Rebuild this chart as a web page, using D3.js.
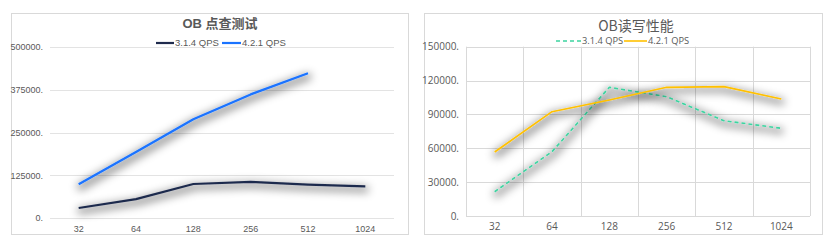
<!DOCTYPE html>
<html>
<head>
<meta charset="utf-8">
<script src="https://cdn.jsdelivr.net/npm/d3@7.9.0/dist/d3.min.js"></script>
<style>
  body { margin: 0; background: #fff; }
  svg { display: block; }
</style>
</head>
<body>
<svg id="chart" width="832" height="248"></svg>
<script>
// categories (concurrency)
const categories = ["32", "64", "128", "256", "512", "1024"];

// left chart: OB 点查测试
const leftTitle = "OB 点查测试";
const leftSeriesNames = ["3.1.4 QPS", "4.2.1 QPS"];
const left314 = [30000, 56000, 100000, 106000, 98000, 93000];
const left421 = [99000, 193000, 288500, 361000, 422500, null];
const leftTicks = [0, 125000, 250000, 375000, 500000];

// right chart: OB读写性能
const rightTitle = "OB读写性能";
const rightSeriesNames = ["3.1.4 QPS", "4.2.1 QPS"];
const right314 = [21500, 57000, 114000, 105700, 84400, 77700];
const right421 = [56700, 92400, 102800, 114000, 114600, 103700];
const rightTicks = [0, 30000, 60000, 90000, 120000, 150000];

const svg = d3.select("#chart");

// soft gray shadow under the lines
const defs = svg.append("defs");
const shadow = defs.append("filter")
  .attr("id", "shadow")
  .attr("x", "-20%").attr("y", "-50%")
  .attr("width", "140%").attr("height", "200%");
shadow.append("feMorphology")
  .attr("in", "SourceAlpha").attr("operator", "dilate").attr("radius", 2)
  .attr("result", "thick");
shadow.append("feGaussianBlur")
  .attr("in", "thick").attr("stdDeviation", 4).attr("result", "blur");
shadow.append("feOffset")
  .attr("in", "blur").attr("dx", 1).attr("dy", 3).attr("result", "off");
shadow.append("feFlood")
  .attr("flood-color", "#000").attr("flood-opacity", 0.4);
shadow.append("feComposite")
  .attr("in2", "off").attr("operator", "in").attr("result", "sh");
const merge = shadow.append("feMerge");
merge.append("feMergeNode").attr("in", "sh");
merge.append("feMergeNode").attr("in", "SourceGraphic");

function drawPanel(opts) {
  const g = svg.append("g");

  g.append("rect")
    .attr("x", opts.box[0] + 0.5).attr("y", opts.box[1] + 0.5)
    .attr("width", opts.box[2]).attr("height", opts.box[3])
    .attr("fill", "#fff")
    .attr("stroke", "#d9d9d9");

  const x = d3.scaleBand()
    .domain(categories)
    .range([opts.plot[0], opts.plot[1]]);
  const y = d3.scaleLinear()
    .domain([0, opts.ticks[opts.ticks.length - 1]])
    .range([opts.plot[3], opts.plot[2]]);

  // horizontal grid
  g.append("g").selectAll("line")
    .data(opts.ticks)
    .join("line")
    .attr("x1", opts.plot[0]).attr("x2", opts.plot[1])
    .attr("y1", d => Math.round(y(d)) + 0.5)
    .attr("y2", d => Math.round(y(d)) + 0.5)
    .attr("stroke", opts.gridColor);

  if (opts.vgrid) {
    const edges = categories.map(c => x(c)).concat([opts.plot[1]]);
    g.append("g").selectAll("line")
      .data(edges)
      .join("line")
      .attr("x1", d => Math.round(d) + 0.5).attr("x2", d => Math.round(d) + 0.5)
      .attr("y1", opts.plot[2]).attr("y2", opts.plot[3])
      .attr("stroke", opts.gridColor);
  }

  // y tick labels
  g.append("g").selectAll("text")
    .data(opts.ticks)
    .join("text")
    .attr("x", opts.plot[0] - 7)
    .attr("y", d => y(d))
    .attr("dy", "0.35em")
    .attr("text-anchor", "end")
    .attr("font-family", opts.font)
    .attr("font-size", opts.tickSize)
    .attr("fill", "#595959")
    .text(d => d + ".");

  // x tick labels
  g.append("g").selectAll("text")
    .data(categories)
    .join("text")
    .attr("x", d => x(d) + x.bandwidth() / 2)
    .attr("y", opts.plot[3] + 14)
    .attr("text-anchor", "middle")
    .attr("font-family", opts.font)
    .attr("font-size", opts.tickSize)
    .attr("fill", "#595959")
    .text(d => d);

  // title
  g.append("text")
    .attr("x", opts.titlePos[0]).attr("y", opts.titlePos[1])
    .attr("text-anchor", "middle")
    .attr("font-family", opts.titleFont)
    .attr("font-size", opts.titleSize)
    .attr("font-weight", opts.titleWeight)
    .attr("fill", "#595959")
    .text(opts.title);

  const line = d3.line()
    .defined(d => d != null)
    .x((d, i) => x(categories[i]) + x.bandwidth() / 2)
    .y(d => y(d));

  opts.series.forEach(s => {
    g.append("path")
      .datum(s.values)
      .attr("fill", "none")
      .attr("stroke", s.color)
      .attr("stroke-width", s.width)
      .attr("stroke-dasharray", s.dash || null)
      .attr("stroke-linejoin", "round")
      .attr("filter", "url(#shadow)")
      .attr("d", line);
  });

  // legend
  opts.series.forEach(s => {
    const lg = g.append("g").attr("transform", `translate(${s.legendX},${opts.legendY})`);
    lg.append("line")
      .attr("x1", 0).attr("x2", s.legendLen)
      .attr("y1", 0).attr("y2", 0)
      .attr("stroke", s.color)
      .attr("stroke-width", s.width)
      .attr("stroke-dasharray", s.dash || null);
    lg.append("text")
      .attr("x", s.legendLen + 1)
      .attr("y", 0)
      .attr("dy", "0.35em")
      .attr("font-family", opts.font)
      .attr("font-size", opts.legendSize)
      .attr("fill", "#595959")
      .text(s.name);
  });
}

drawPanel({
  box: [11, 13, 397, 221],
  plot: [50, 394, 46.7, 218.3],
  ticks: leftTicks,
  vgrid: false,
  gridColor: "#e3e3e3",
  font: "'Liberation Sans', Arial, sans-serif",
  tickSize: 9,
  legendSize: 9.5,
  title: leftTitle,
  titleFont: "'Liberation Sans', 'Noto Sans CJK SC', sans-serif",
  titleSize: 13,
  titleWeight: "bold",
  titlePos: [220, 28],
  legendY: 43,
  series: [
    { name: leftSeriesNames[0], values: left314, color: "#1f2b4d", width: 2.2, legendX: 156, legendLen: 18 },
    { name: leftSeriesNames[1], values: left421, color: "#1a73ff", width: 2.2, legendX: 222, legendLen: 19 }
  ]
});

drawPanel({
  box: [424, 13, 398, 221],
  plot: [466, 810, 46.7, 216],
  ticks: rightTicks,
  vgrid: true,
  gridColor: "#d9d9d9",
  font: "'Open Sans', 'Noto Sans', sans-serif",
  tickSize: 10,
  legendSize: 9.3,
  title: rightTitle,
  titleFont: "'Noto Sans CJK SC', sans-serif",
  titleSize: 14,
  titleWeight: "normal",
  titlePos: [636, 31],
  legendY: 41,
  series: [
    { name: rightSeriesNames[0], values: right314, color: "#3dd3a0", width: 1.6, dash: "4,3", legendX: 556, legendLen: 25 },
    { name: rightSeriesNames[1], values: right421, color: "#ffc000", width: 1.6, legendX: 624, legendLen: 23 }
  ]
});
</script>
</body>
</html>
